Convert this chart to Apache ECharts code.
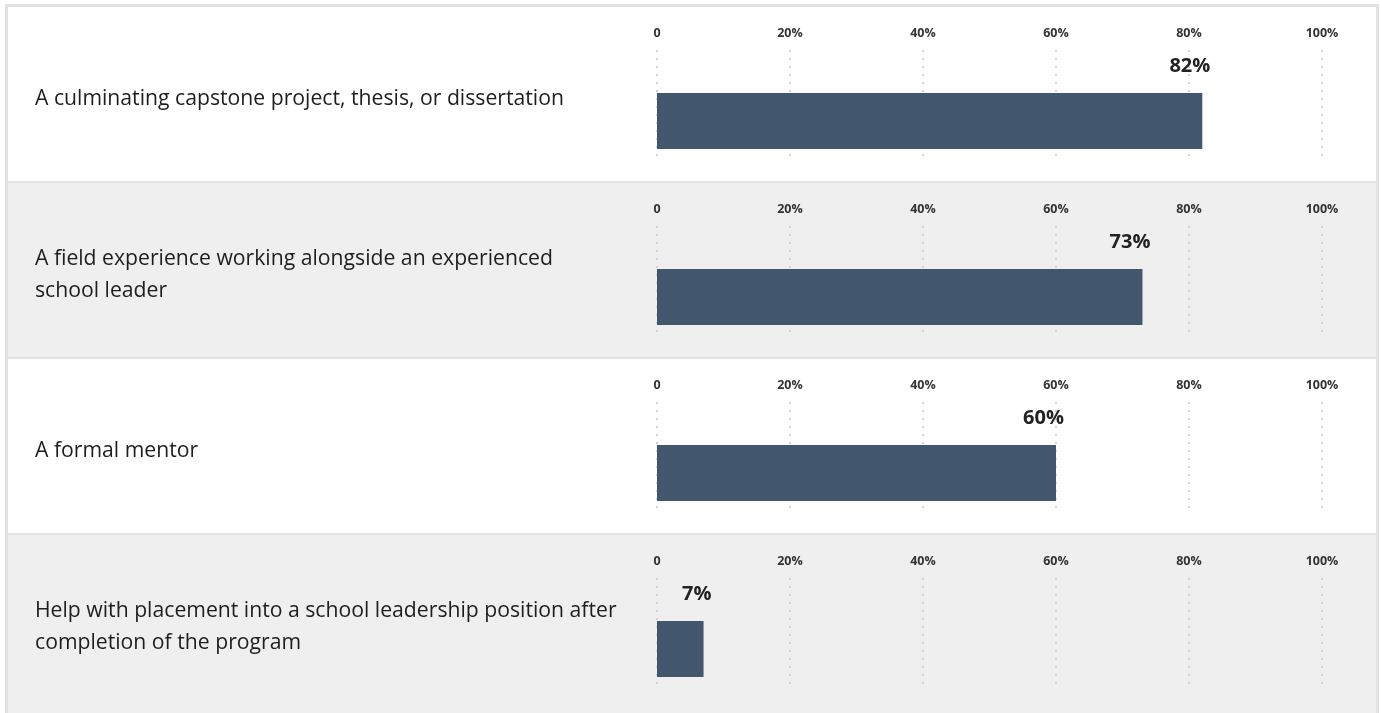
<!DOCTYPE html>
<html>
<head>
<meta charset="utf-8">
<style>
  html, body { margin: 0; padding: 0; background: #fff; }
  #chart { width: 1382px; height: 713px; }
</style>
<script src="https://cdn.jsdelivr.net/npm/echarts@6/dist/echarts.min.js"></script>
</head>
<body>
<div id="chart"></div>
<script>
var categories = [
  'A culminating capstone project, thesis, or dissertation',
  'A field experience working alongside an experienced\nschool leader',
  'A formal mentor',
  'Help with placement into a school leadership position after\ncompletion of the program'
]
var values = [82, 73, 60, 7]
var tickValues = [0, 20, 40, 60, 80, 100]

var ROW_H = 176
var PLOT_LEFT = 657
var PLOT_RIGHT = 60
var BAR_COLOR = '#42566e'

var chart = echarts.init(document.getElementById('chart'), null, { renderer: 'canvas' })

var grids = []
var xAxes = []
var yAxes = []
var series = []
var graphics = [{
  type: 'rect',
  shape: { x: 5, y: 4, width: 1374, height: 713 },
  style: { fill: '#e2e2e2' },
  z: -10
}]

categories.forEach(function(cat, i) {
  var top = 6 + ROW_H * i
  var last = i === categories.length - 1

  // row background
  graphics.push({
    type: 'rect',
    shape: { x: 8, y: top + 1, width: 1368, height: last ? 713 - top : ROW_H - 2 },
    style: { fill: i % 2 === 0 ? '#ffffff' : '#efefef' },
    z: -9
  })
  // row label
  graphics.push({
    type: 'text',
    x: 35,
    y: top + 93,
    style: {
      text: cat,
      font: '21.2px "Open Sans"',
      lineHeight: 32,
      fill: '#1e1e1e',
      verticalAlign: 'middle'
    },
    z: 5
  })

  // grid with axis labels + dotted lines
  grids.push({ left: PLOT_LEFT, right: PLOT_RIGHT, top: top + 44, height: 107 })
  // grid holding the bar
  grids.push({ left: PLOT_LEFT, right: PLOT_RIGHT, top: top + 87, height: 56 })

  xAxes.push({
    gridIndex: i * 2,
    type: 'value',
    position: 'top',
    min: 0,
    max: 100,
    interval: 20,
    axisLine: { show: false },
    axisTick: { show: false },
    axisLabel: {
      margin: 10,
      fontFamily: 'Open Sans',
      fontSize: 12.5,
      fontWeight: 'bold',
      color: '#333',
      formatter: function(v) {
        return tickValues.indexOf(v) < 0 ? '' : (v === 0 ? '0' : v + '%')
      }
    },
    splitLine: {
      show: true,
      lineStyle: { color: '#d2d2d2', width: 2, type: [2, 6] }
    }
  })
  xAxes.push({
    gridIndex: i * 2 + 1,
    type: 'value',
    min: 0,
    max: 100,
    show: false
  })

  yAxes.push({
    gridIndex: i * 2,
    type: 'category',
    data: [cat],
    show: false
  })
  yAxes.push({
    gridIndex: i * 2 + 1,
    type: 'category',
    data: [cat],
    show: false
  })

  series.push({
    type: 'bar',
    xAxisIndex: i * 2 + 1,
    yAxisIndex: i * 2 + 1,
    data: [values[i]],
    barWidth: '100%',
    itemStyle: { color: BAR_COLOR },
    label: {
      show: true,
      position: ['100%', -27],
      align: 'right',
      verticalAlign: 'middle',
      offset: [8, 0],
      formatter: '{c}%',
      fontFamily: 'Open Sans',
      fontSize: 20,
      fontWeight: 'bold',
      color: '#222'
    }
  })
})

chart.setOption({
  animation: false,
  graphic: graphics,
  grid: grids,
  xAxis: xAxes,
  yAxis: yAxes,
  series: series
})
</script>
</body>
</html>
